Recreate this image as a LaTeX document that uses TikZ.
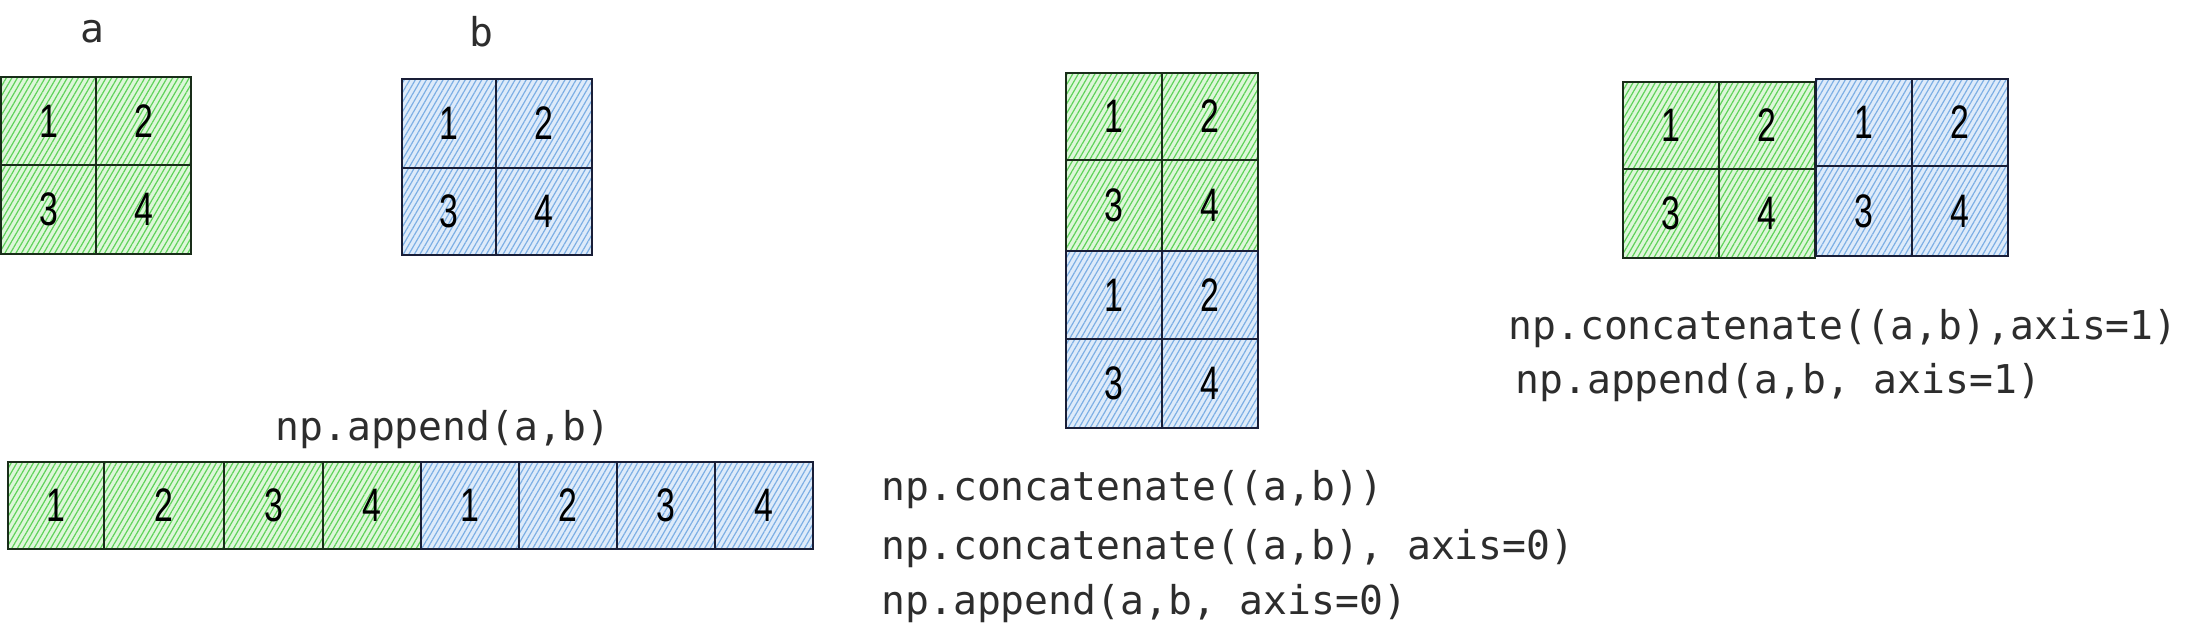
\documentclass[tikz,border=0pt]{standalone}
\usepackage{fontspec}
\usepackage{graphicx}
\usetikzlibrary{patterns.meta}
\newfontfamily\codefont{DejaVu Sans Mono}
\newfontfamily\digitfont{Liberation Sans}
\definecolor{gline}{RGB}{95,210,90}
\definecolor{gbg}{RGB}{222,247,218}
\definecolor{bline}{RGB}{125,175,228}
\definecolor{bbg}{RGB}{222,235,250}
\definecolor{gedge}{RGB}{25,45,25}
\definecolor{bedge}{RGB}{25,30,55}
\definecolor{ink}{RGB}{45,45,45}
\newcommand{\dg}[1]{\scalebox{0.72}[1]{#1}}
\newcommand{\cellnode}[7]{\node[#1, minimum width={(#5-#3)*0.5pt}, minimum height={(#6-#4)*0.5pt}]
  (#2) at ({(#3+#5)/2},{(#4+#6)/2}) {\dg{#7}};}
\tikzset{
  cellbase/.style={inner sep=0pt, outer sep=0pt, line width=0.7pt, text=black,
    font=\digitfont\fontsize{23.5}{23.5}\selectfont},
  gcell/.style={cellbase, draw=gedge, preaction={fill=gbg},
    pattern={Lines[angle=60,distance=2.4pt,line width=0.6pt]}, pattern color=gline},
  bcell/.style={cellbase, draw=bedge, preaction={fill=bbg},
    pattern={Lines[angle=60,distance=2.4pt,line width=0.6pt]}, pattern color=bline},
  code/.style={inner sep=0pt, anchor=west, text=ink,
    font=\codefont\fontsize{19.85}{24}\selectfont},
  lbl/.style={code, anchor=center},
}
\begin{document}
\begin{tikzpicture}[x=0.5pt,y=-0.5pt]
\useasboundingbox (0,0) rectangle (2210,636);
% labels
\node[lbl] (la) at (92,32) {a};
\node[lbl] (lb) at (481,32) {b};
% grid a
\cellnode{gcell}{a1}{1}{77}{96}{165}{1}
\cellnode{gcell}{a2}{96}{77}{191}{165}{2}
\cellnode{gcell}{a3}{1}{165}{96}{254}{3}
\cellnode{gcell}{a4}{96}{165}{191}{254}{4}
% grid b
\cellnode{bcell}{b1}{402}{79}{496}{168}{1}
\cellnode{bcell}{b2}{496}{79}{592}{168}{2}
\cellnode{bcell}{b3}{402}{168}{496}{255}{3}
\cellnode{bcell}{b4}{496}{168}{592}{255}{4}
% append flat
\node[code] (tapp) at (275,430) {np.append(a,b)};
\cellnode{gcell}{f1}{8}{462}{104}{549}{1}
\cellnode{gcell}{f2}{104}{462}{224}{549}{2}
\cellnode{gcell}{f3}{224}{462}{323}{549}{3}
\cellnode{gcell}{f4}{323}{462}{421}{549}{4}
\cellnode{bcell}{f5}{421}{462}{519}{549}{1}
\cellnode{bcell}{f6}{519}{462}{617}{549}{2}
\cellnode{bcell}{f7}{617}{462}{715}{549}{3}
\cellnode{bcell}{f8}{715}{462}{813}{549}{4}
% axis 0 stack
\cellnode{gcell}{v1}{1066}{73}{1162}{160}{1}
\cellnode{gcell}{v2}{1162}{73}{1258}{160}{2}
\cellnode{gcell}{v3}{1066}{160}{1162}{251}{3}
\cellnode{gcell}{v4}{1162}{160}{1258}{251}{4}
\cellnode{bcell}{v5}{1066}{251}{1162}{339}{1}
\cellnode{bcell}{v6}{1162}{251}{1258}{339}{2}
\cellnode{bcell}{v7}{1066}{339}{1162}{428}{3}
\cellnode{bcell}{v8}{1162}{339}{1258}{428}{4}
\node[code] (t0a) at (881,490) {np.concatenate((a,b))};
\node[code] (t0b) at (881,549) {np.concatenate((a,b), axis=0)};
\node[code] (t0c) at (881,604) {np.append(a,b, axis=0)};
% axis 1 side by side
\cellnode{gcell}{h1}{1623}{82}{1719}{169}{1}
\cellnode{gcell}{h2}{1719}{82}{1815}{169}{2}
\cellnode{gcell}{h3}{1623}{169}{1719}{258}{3}
\cellnode{gcell}{h4}{1719}{169}{1815}{258}{4}
\cellnode{bcell}{h5}{1816}{79}{1912}{166}{1}
\cellnode{bcell}{h6}{1912}{79}{2008}{166}{2}
\cellnode{bcell}{h7}{1816}{166}{1912}{256}{3}
\cellnode{bcell}{h8}{1912}{166}{2008}{256}{4}
\node[code] (t1a) at (1508,329) {np.concatenate((a,b),axis=1)};
\node[code] (t1b) at (1515,383) {np.append(a,b, axis=1)};
\end{tikzpicture}
\end{document}
